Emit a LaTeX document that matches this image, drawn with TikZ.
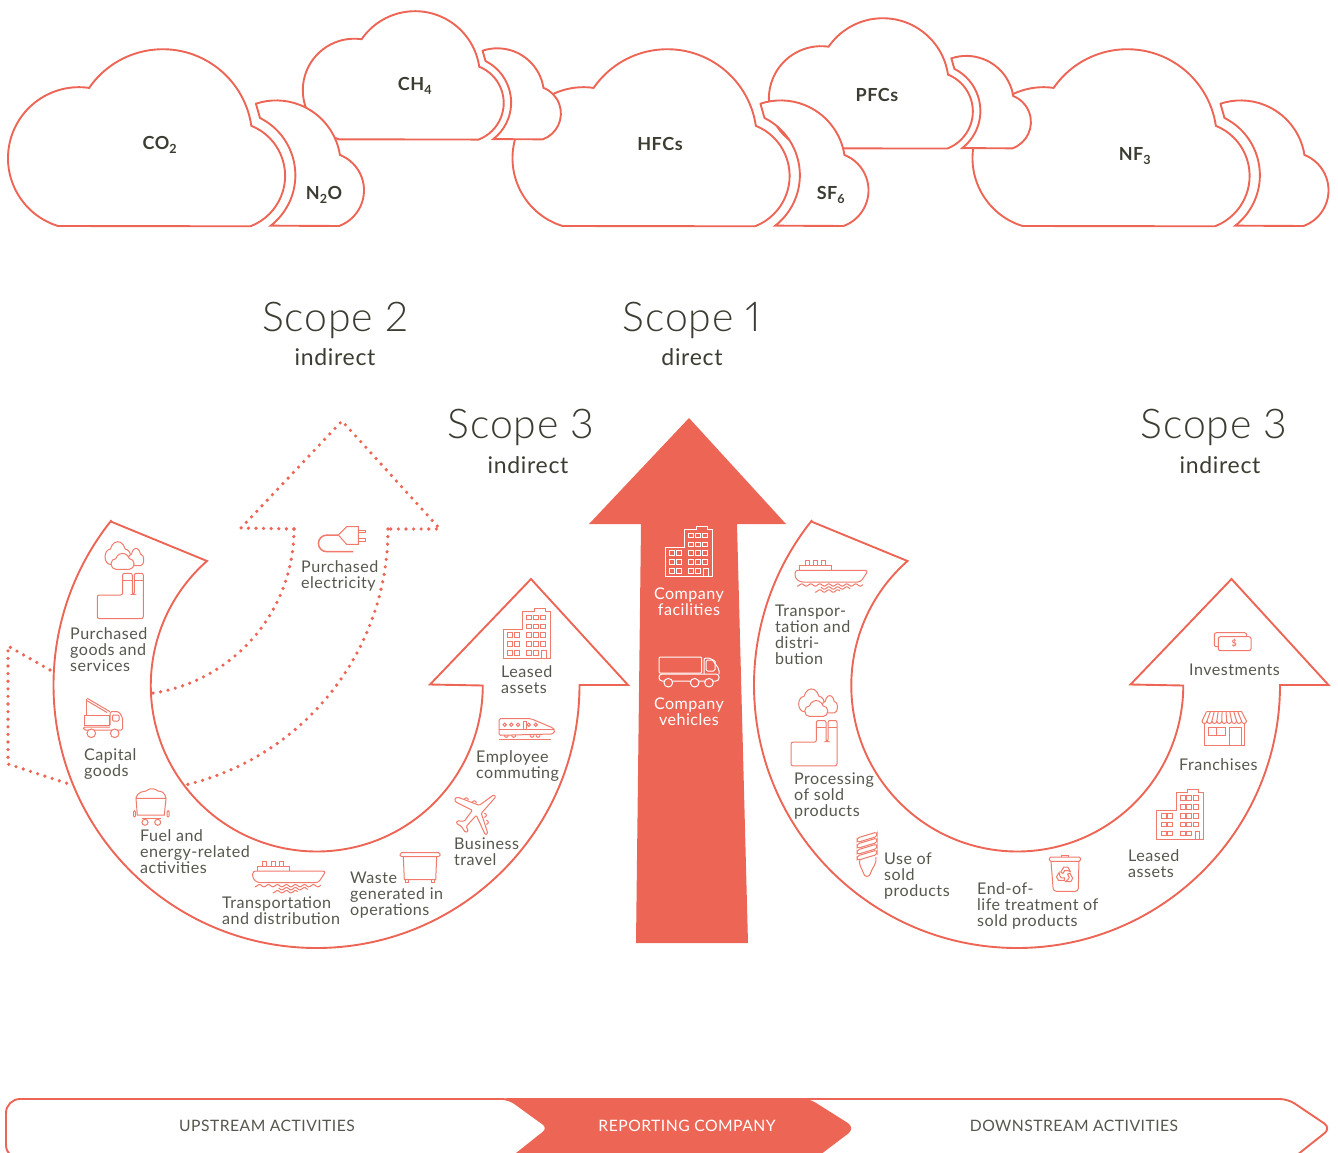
\documentclass[tikz,border=0pt]{standalone}
\usepackage{fontspec}
\setmainfont[LetterSpace=3]{Lato}
\newfontfamily\scopefont[LetterSpace=2,Numbers=Proportional]{Lato Light}
\definecolor{scopered}{HTML}{ED6555}
\definecolor{iconred}{HTML}{F07A6B}
\definecolor{labelgray}{HTML}{57574E}
\definecolor{gasdark}{HTML}{3C3C32}
\tikzset{
	redline/.style={draw=scopered,line width=1.9pt,fill=white},
	dotline/.style={draw=scopered,line width=3.6pt,line cap=round,dash pattern=on 0pt off 7.6pt},
	icon/.style={color=iconred,line width=1pt},
	iconwhite/.style={color=white,line width=1pt},
	listlabel/.style={anchor=west,align=left,inner sep=0pt,yshift=-0.5pt,text=labelgray,font=\fontsize{16.1}{16}\selectfont},
	whitelabel/.style={align=center,inner sep=0pt,yshift=-0.5pt,text=white,font=\fontsize{16.1}{16}\selectfont},
	gaslabel/.style={inner sep=0pt,yshift=-1pt,text=gasdark,font=\fontsize{18}{18}\selectfont\bfseries},
	scopelabel/.style={inner sep=0pt,text=gasdark,font=\fontsize{41}{41}\selectfont\scopefont},
	kindlabel/.style={inner sep=0pt,text=gasdark,font=\fontsize{23}{23}\selectfont},
	bandlabel/.style={inner sep=0pt,font=\fontsize{15.7}{16}\selectfont},
	pics/gascloud/.style={code={
		\draw[redline] (58,226) arc (107.2:278.2:71) arc (214.6:351.7:89.5) arc (-68:69:54) -- cycle;
		\draw[redline] (256,104) -- (260,118) arc (-63.4:52:64) -- (339,226) arc (70:-68.5:38) arc (-8.9:-108.2:64.5) -- cycle;
	}},
	pics/bigarrow/.style={code={
		\draw[redline] (112,522) -- (207,561) arc (228.6:0:166) -- (430,684.5) -- (531,579) -- (628,685) -- (579.5,685) arc (0:218.6:263) -- cycle;
	}},
	pics/building/.style={code={
		\draw (0,50) -- (0,21) -- (19.3,21) -- (19.3,3.3) -- (30.7,3.3) -- (30.7,0) -- (41.7,0) -- (41.7,3.3) -- (46.7,3.3) -- (46.7,50) -- cycle;
		\foreach \wx in {23.3,30,36.7}
			\foreach \wy in {6.7,15.7,24.3,33}
				\draw (\wx,\wy) rectangle +(5,4.7);
		\foreach \wx in {23.3,30}
			\draw (\wx,42) rectangle +(5,4.7);
		\foreach \wx in {4.3,11}
			\foreach \wy in {24.3,33,42}
				\draw (\wx,\wy) rectangle +(5,4.7);
		\draw (38.3,50) -- (38.3,42) -- (42.7,42) -- (42.7,50);
	}},
	pics/puff/.style={code={
		\draw[fill=white] (4,12) arc (90:270:4) arc (200:340:6) arc (-90:90:4) -- cycle;
	}},
	pics/factory/.style={code={
		\draw[rounded corners=2pt] (0,21.7) -- (25.3,21.7) -- (25.3,0) -- (35,0) -- (35,21) -- (37,21) -- (37,0) -- (46,0) -- (46,45.3) -- (0,45.3) -- cycle;
		\draw (25.3,6.7) -- (35,6.7);
		\draw (37,6.7) -- (46,6.7);
		\pic[xscale=1.33,yscale=1.9] at (7.7,-31.7) {puff};
		\pic[xscale=0.8,yscale=1.45] at (31,-25) {puff};
		\pic[xscale=1.2,yscale=1.33] at (13.7,-20) {puff};
	}},
	pics/cranetruck/.style={code={
		\draw (4.3,1.3) -- (27,14.7);
		\draw (3.7,3.5) -- (24,15.5);
		\draw (3.7,1.5) -- (3.7,18.7);
		\draw (1.3,18.7) rectangle (26.3,28);
		\draw[rounded corners=1.5pt] (27,28) -- (27,14.7) -- (36,14.7) -- (39.7,21) -- (39.7,33) -- (1,33) -- (0,30) -- (27,30);
		\draw[rounded corners=1pt] (29.5,18) rectangle (36,24);
		\draw[fill=white] (8.3,36.3) circle (4.3);
		\draw[fill=white] (31.7,36.3) circle (4.3);
	}},
	pics/coalwagon/.style={code={
		\draw (3,10.3) -- (33,10.3) -- (31.3,27) -- (4.3,27) -- cycle;
		\draw (3,10.3) .. controls (5,3) and (10,4) .. (13,3) .. controls (17,-1) and (23,1) .. (25,3) .. controls (30,3) and (32,6) .. (33,10.3);
		\draw (9,30) -- (28,30);
		\draw[fill=white] (12,34.3) circle (3);
		\draw[fill=white] (24.7,34.3) circle (3);
		\draw[rounded corners=1pt] (0.5,22.7) rectangle (2.5,29);
		\draw[rounded corners=1pt] (34,22.7) rectangle (36,29);
	}},
	pics/ship/.style={code={
		\draw[rounded corners=3pt] (0,10.3) -- (73.3,10.3) -- (65.7,22) -- (5,22) -- (0,18) -- cycle;
		\draw (4.7,10.3) -- (4.7,5.3) -- (36.7,5.3) -- (36.7,10.3);
		\foreach \fx in {10,18.3,26.6}
			\draw (\fx,5.3) -- (\fx,0.5) -- (\fx+4,0.5) -- (\fx+4,5.3);
		\draw plot[domain=2:68,samples=45] (\x,{25+1.2*sin(\x*40)});
		\draw plot[domain=26:55,samples=25] (\x,{28+1.2*sin(\x*40)});
		\draw plot[domain=20:45,samples=25] (\x,{31+1.2*sin(\x*40)});
	}},
	pics/wastebin/.style={code={
		\draw[rounded corners=1.5pt] (0,0) rectangle (40,4);
		\draw (3.3,4) -- (4.3,27) -- (35.7,27) -- (36.7,4);
		\draw (5.5,27) rectangle (8.5,30);
		\draw (31.5,27) rectangle (34.5,30);
	}},
	pics/plane/.style={code={
		\draw[rounded corners=1pt] (40.5,1.5) -- (42.5,3.5) -- (28,20) -- (34.5,40) -- (32,41.5) -- (23,22) -- (13,33) -- (15,38) -- (12,39) -- (8,33) -- (3,30) -- (4,27.5) -- (11,28) -- (19,17) -- (2,8.5) -- (1.5,5) -- (5,4) -- (26,12) -- cycle;
		\draw (11,6.5) arc (180:360:2);
		\draw (19,9.5) arc (180:360:2);
		\draw (31,20) arc (-90:90:2);
		\draw (33,27) arc (-90:90:2);
	}},
	pics/train/.style={code={
		\draw[rounded corners=1.5pt] (0,0.7) -- (32,0.7) -- (54,10) -- (56,12.3) -- (54,16) -- (0,17.3) -- cycle;
		\draw (0,11.7) -- (55,11.7);
		\foreach \wx in {5.7,12.3,19,29.7,36.7}
			\draw (\wx,6.7) circle (1.7);
		\draw (24,3.3) rectangle (27,11);
		\foreach \wx in {7.3,14.7,33,39}
			\draw (\wx-2,17.3) arc (180:0:2);
		\draw (0,21.7) -- (52,21.7);
	}},
	pics/plug/.style={code={
		\draw[line width=1.5pt] (35.3,25) -- (8.7,25) arc (90:270:8.3) -- (20.3,8.3);
		\draw (20.3,8.3) -- (28.7,0) -- (40.3,0) -- (40.3,17.7) -- (28.7,17.7) -- cycle;
		\draw (40.3,3.3) rectangle (47,6);
		\draw (40.3,11.7) rectangle (47,14.5);
	}},
	pics/boxtruck/.style={code={
		\draw[rounded corners=1pt] (0,0) rectangle (42.7,16);
		\draw[rounded corners=2pt] (45,17) -- (45,1) -- (52,1) -- (60,12) -- (60,17);
		\draw[rounded corners=1.5pt] (47,3) rectangle (56,14);
		\draw[rounded corners=3pt] (0,17) rectangle (60,24);
		\foreach \wx in {9.3,35.7,50}
			\draw[fill=scopered] (\wx,25.7) circle (4.3);
	}},
	pics/bulb/.style={code={
		\foreach \wy in {3,9,15,21}
			\draw[rounded corners=2.5pt] (0,\wy+3) -- (20,\wy-3) -- (20,\wy+1.5) -- (0,\wy+7.5) -- cycle;
		\draw (3,27) .. controls (1,33) and (5,36) .. (6,40) .. controls (7,46) and (13,46) .. (14,40) .. controls (15,36) and (20,32) .. (19,25);
	}},
	pics/recyclebin/.style={code={
		\draw[rounded corners=1.5pt] (0,2) rectangle (31.3,6.3);
		\draw (12.3,2) -- (12.3,0) -- (19,0) -- (19,2);
		\draw[rounded corners=3pt] (1.7,6.3) -- (4,36.3) -- (29,36.3) -- (29.6,6.3);
		\foreach \ra in {0,120,240}
			\draw[rotate around={\ra:(15.7,20.2)}] (11.5,17) -- (14.5,12) -- (18.5,12) -- (21,16.5) -- (18,15.5) -- (15.5,15.5) -- (13.5,18.5) -- cycle;
	}},
	pics/money/.style={code={
		\draw[rounded corners=2pt] (0,0) rectangle (32.3,14);
		\draw[rounded corners=2pt,fill=white] (4,4) rectangle (36.7,18);
		\node[inner sep=0pt,font=\fontsize{9}{9}\selectfont\bfseries] (dollarsign) at (20,11) {\$};
	}},
	pics/store/.style={code={
		\draw (2,11.8) -- (2,34) -- (42,34) -- (42,11.8);
		\draw (6,16.2) rectangle (23.4,24.2);
		\draw (14.7,16.2) -- (14.7,24.2);
		\draw (27.7,34) -- (27.7,16.2) -- (39.4,16.2) -- (39.4,34);
		\draw (4.5,0) -- (39.5,0);
		\foreach \i in {0,...,9}
			\draw ({4.5+\i*3.89},0) -- ({\i*4.94},9.5);
		\foreach \i in {0,...,8}
			\draw ({\i*4.94+4.94},9.5) arc (0:180:2.47);
	}},
}
\begin{document}
\begin{tikzpicture}[x=1pt,y=-1pt]
	\useasboundingbox (0,0) rectangle (1338,1153);
	\clip (0,0) rectangle (1338,1153);
	
	%%%%% CLOUDS %%%%%
	
	\pic at (964.5,0) {gascloud};
	\pic[scale=0.736] at (763,-18) {gascloud};
	\pic at (504.5,0) {gascloud};
	\pic[scale=0.725] at (297,-24.5) {gascloud};
	\pic at (0,0) {gascloud};
	
	\node[gaslabel] (cotwo) at (160,144) {CO\textsubscript{2}};
	\node[gaslabel] (ntwoo) at (324,194) {N\textsubscript{2}O};
	\node[gaslabel] (chfour) at (415,85) {CH\textsubscript{4}};
	\node[gaslabel] (hfcs) at (660,143) {HFCs};
	\node[gaslabel] (sfsix) at (831,194) {SF\textsubscript{6}};
	\node[gaslabel] (pfcs) at (877,94) {PFCs};
	\node[gaslabel] (nfthree) at (1135,155) {NF\textsubscript{3}};
	
	%%%%% SCOPES %%%%%
	
	\node[scopelabel] (scopetwo) at (335,320) {Scope 2};
	\node[kindlabel] (indirecttwo) at (335,357) {indirect};
	\node[scopelabel] (scopeone) at (692,320) {Scope 1};
	\node[kindlabel] (directone) at (692,357) {direct};
	\node[scopelabel] (scopeup) at (521,427) {Scope 3};
	\node[kindlabel] (indirectup) at (528,465) {indirect};
	\node[scopelabel] (scopedown) at (1214,427) {Scope 3};
	\node[kindlabel] (indirectdown) at (1220,465) {indirect};
	
	%%%%% ARROWS %%%%%
	
	\pic at (0,0) {bigarrow};
	\pic at (700.5,0) {bigarrow};
	
	\draw[dotline] (294,529) arc (0:83:166);
	\draw[dotline] (388,529) arc (0:76.5:263);
	\draw[dotline] (294,529) -- (241,528) -- (342,421) -- (440,529) -- (388,529);
	\draw[dotline] (50,670) -- (8,646) -- (8,764) -- (72,785);
	
	\fill[scopered] (689,418) -- (786,524) -- (737,524) -- (748,943) -- (636,943) -- (641,524) -- (589,524) -- cycle;
	
	%%%%% ICONS %%%%%
	
	\pic[icon] at (97.3,573.3) {factory};
	\pic[icon] at (83,697) {cranetruck};
	\pic[icon] at (133,788) {coalwagon};
	\pic[icon] at (252.7,860.7) {ship};
	\pic[icon] at (400,852.7) {wastebin};
	\pic[icon] at (453.3,793.3) {plane};
	\pic[icon] at (499,718) {train};
	\pic[icon] at (503.3,608.3) {building};
	\pic[icon] at (318,526.7) {plug};
	\pic[iconwhite] at (665.5,526.5) {building};
	\pic[iconwhite] at (659,657) {boxtruck};
	\pic[icon] at (795,560) {ship};
	\pic[icon] at (791,720.5) {factory};
	\pic[icon] at (857,832) {bulb};
	\pic[icon] at (1049.3,855) {recyclebin};
	\pic[icon] at (1156.7,789) {building};
	\pic[icon] at (1202,711.5) {store};
	\pic[icon] at (1214.3,632.7) {money};
	
	%%%%% LABELS %%%%%
	
	\node[listlabel] (purchasedgoods) at (70,649) {Purchased\\goods and\\services};
	\node[listlabel] (capitalgoods) at (84,763.5) {Capital\\goods};
	\node[listlabel] (fuelenergy) at (140,851) {Fuel and\\energy-related\\activities};
	\node[listlabel] (transportup) at (222,910) {Transportation\\and distribution};
	\node[listlabel] (wasteops) at (350,894.5) {Waste\\generated in\\operations};
	\node[listlabel] (businesstravel) at (454,851) {Business\\travel};
	\node[listlabel] (commuting) at (476,765.5) {Employee\\commuting};
	\node[listlabel] (leasedup) at (501,679) {Leased\\assets};
	\node[listlabel] (electricity) at (301,575) {Purchased\\electricity};
	\node[whitelabel] (facilities) at (689,601) {Company\\facilities};
	\node[whitelabel] (vehicles) at (689,711) {Company\\vehicles};
	\node[listlabel] (transportdown) at (775,634) {Transpor-\\tation and\\distri-\\bution};
	\node[listlabel] (processing) at (794,795) {Processing\\of sold\\products};
	\node[listlabel] (usesold) at (884,875.5) {Use of\\sold\\products};
	\node[listlabel] (endoflife) at (977,905) {End-of-\\life treatment of\\sold products};
	\node[listlabel] (leaseddown) at (1128,863) {Leased\\assets};
	\node[listlabel] (franchises) at (1179,764) {Franchises};
	\node[listlabel] (investments) at (1189,669) {Investments};
	
	%%%%% BAND %%%%%
	
	\draw[redline,rounded corners=8pt] (700,1099) -- (1288,1099) -- (1331,1128) -- (1292,1159) -- (700,1159);
	\draw[redline,fill=scopered,rounded corners=8pt] (500,1099) -- (808,1099) -- (854,1128) -- (813,1159) -- (500,1159) -- cycle;
	\draw[redline,rounded corners=14pt] (60,1159) -- (6,1159) -- (6,1099) -- (400,1099) [rounded corners=7pt] -- (509,1099) -- (549,1128) -- (510,1159) -- cycle;
	
	\node[bandlabel,text=labelgray] (upstream) at (267,1126) {UPSTREAM ACTIVITIES};
	\node[bandlabel,text=white] (reporting) at (687,1126) {REPORTING COMPANY};
	\node[bandlabel,text=labelgray] (downstream) at (1074,1126) {DOWNSTREAM ACTIVITIES};
\end{tikzpicture}
\end{document}
